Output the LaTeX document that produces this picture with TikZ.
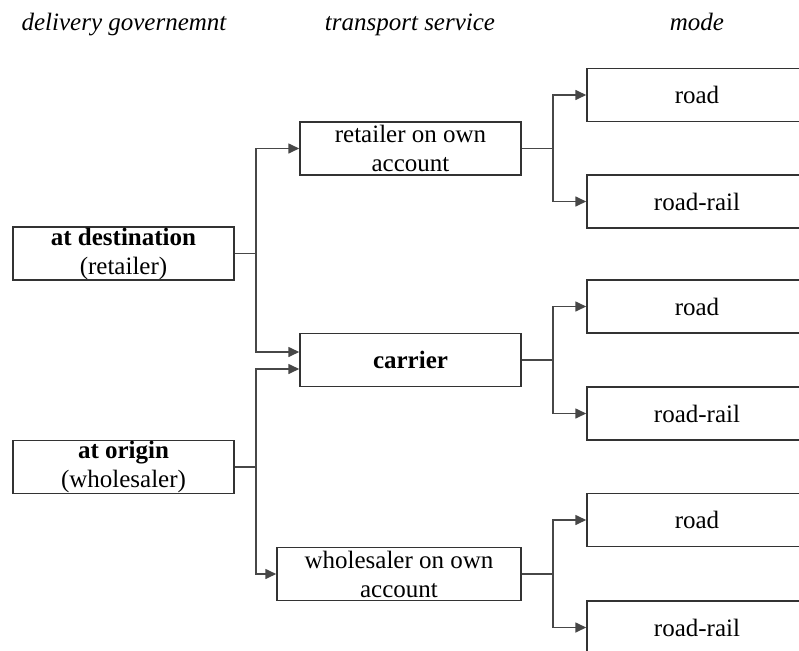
\documentclass[tikz,border=0pt]{standalone}
\usepackage{fontspec}
\setmainfont{Liberation Serif}
\usetikzlibrary{arrows.meta}
\begin{document}
\begin{tikzpicture}[x=1pt,y=-1pt,
  box/.style={draw=black!80, line width=1.5pt, rectangle, inner sep=0pt, align=center,
    font=\fontsize{25}{29}\selectfont, minimum height=53pt},
  leftbox/.style={box, minimum width=221pt},
  midbox/.style={box, minimum width=221pt},
  modebox/.style={box, minimum width=220pt},
  head/.style={font=\fontsize{25}{29}\selectfont\itshape, anchor=base, inner sep=0pt},
  conn/.style={draw=black!72, line width=1.6pt},
  arr/.style={conn, -{Triangle[length=11pt,width=10pt]}}
]
\useasboundingbox (0,0) rectangle (799,650);
\clip (0,0) rectangle (799,650);
\fill[white] (0,0) rectangle (799,650);

% headers
\node[head] (h1) at (124,31) {delivery governemnt};
\node[head] (h2) at (410,31) {transport service};
\node[head] (h3) at (697,31) {mode};

% left
\node[leftbox] (dest) at (123.5,253.5) {\textbf{at destination}\\(retailer)};
\node[leftbox] (orig) at (123.5,467) {\textbf{at origin}\\(wholesaler)};

% middle
\node[midbox] (ret) at (410.5,148.5) {retailer on own\\account};
\node[midbox] (car) at (410.5,360) {\textbf{carrier}};
\node[box, minimum width=244pt] (who) at (399,574) {wholesaler on own\\account};

% right
\node[modebox] (road1) at (697,95) {road};
\node[modebox] (rail1) at (697,201.5) {road-rail};
\node[modebox] (road2) at (697,306.5) {road};
\node[modebox] (rail2) at (697,413.5) {road-rail};
\node[modebox] (road3) at (697,520) {road};
\node[modebox] (rail3) at (697,627.5) {road-rail};

% split coordinates
\coordinate (sd) at (256,253.5);
\coordinate (so) at (256,467);
\coordinate (s1) at (553,148.5);
\coordinate (s2) at (553,360);
\coordinate (s3) at (553,574);

% left connectors
\draw[conn] (dest.east) -- (sd);
\draw[arr] (sd) |- (ret.west);
\draw[arr] (sd) |- ([yshift=8pt]car.west);
\draw[conn] (orig.east) -- (so);
\draw[arr] (so) |- ([yshift=-9pt]car.west);
\draw[arr] (so) |- (who.west);

% right connectors
\draw[conn] (ret.east) -- (s1);
\draw[arr] (s1) |- (road1.west);
\draw[arr] (s1) |- (rail1.west);
\draw[conn] (car.east) -- (s2);
\draw[arr] (s2) |- (road2.west);
\draw[arr] (s2) |- (rail2.west);
\draw[conn] (who.east) -- (s3);
\draw[arr] (s3) |- (road3.west);
\draw[arr] (s3) |- (rail3.west);
\end{tikzpicture}
\end{document}
